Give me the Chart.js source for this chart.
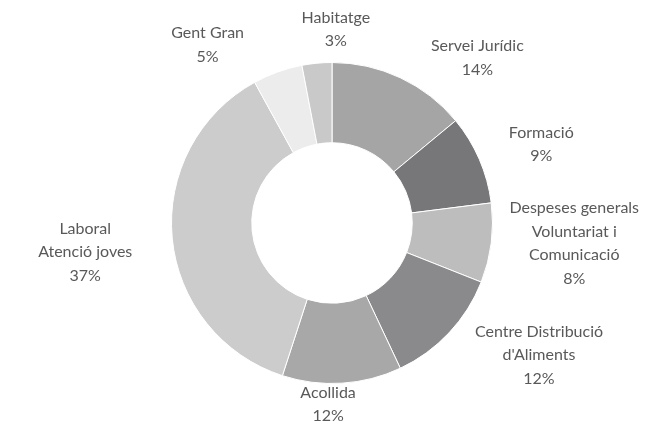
<!DOCTYPE html>
<html>
<head>
<meta charset="utf-8">
<script src="https://cdn.jsdelivr.net/npm/chart.js@4"></script>
<style>
  html, body { margin: 0; padding: 0; background: #fff; }
  #wrap { width: 671px; height: 428px; }
</style>
</head>
<body>
<div id="wrap"><canvas id="donut"></canvas></div>
<script>
// labels (multi-line) and shares in %
const labels = [
    ['Servei Jurídic'],
    ['Formació'],
    ['Despeses generals', 'Voluntariat i', 'Comunicació'],
    ['Centre Distribució', "d'Aliments"],
    ['Acollida'],
    ['Laboral', 'Atenció joves'],
    ['Gent Gran'],
    ['Habitatge']
];
const values = [14, 9, 8, 12, 12, 37, 5, 3];
const colors = ['#a5a5a5', '#77777a', '#bdbdbd', '#8a8a8c', '#a8a8a8', '#cccccc', '#ececec', '#c9c9c9'];

// nudge of each label block away from the outer edge at its mid angle
const labelNudge = [[77, -20], [62, -15], [83, 0], [90, 22], [-14, 21], [-87, 14], [-70, -27], [19, -34]];

const outsideLabels = {
    id: 'outsideLabels',
    afterDatasetsDraw(chart) {
        const ctx = chart.ctx;
        const meta = chart.getDatasetMeta(0);
        ctx.save();
        ctx.font = '16px Lato';
        ctx.fillStyle = '#595959';
        ctx.textAlign = 'center';
        ctx.textBaseline = 'middle';
        const lh = 23.5;
        meta.data.forEach(function (arc, i) {
            const p = arc.getProps(['x', 'y', 'startAngle', 'endAngle', 'outerRadius'], true);
            const mid = (p.startAngle + p.endAngle) / 2;
            const ax = p.x + Math.cos(mid) * p.outerRadius + labelNudge[i][0];
            const ay = p.y + Math.sin(mid) * p.outerRadius + labelNudge[i][1];
            const lines = labels[i].concat([values[i] + '%']);
            const top = ay - (lines.length - 1) * lh / 2;
            lines.forEach(function (t, j) {
                ctx.fillText(t, ax, top + j * lh);
            });
        });
        ctx.restore();
    }
};

var donut = document.getElementById('donut').getContext('2d');
var myChart = new Chart(donut, {
    type: 'doughnut',
    data: {
        labels: labels.map(l => l.join(' ')),
        datasets: [{
            data: values,
            backgroundColor: colors,
            borderColor: '#ffffff',
            borderWidth: 1,
            hoverOffset: 0
        }]
    },
    options: {
        responsive: true,
        maintainAspectRatio: false,
        animation: false,
        events: [],
        cutout: '50%',
        layout: { padding: { left: 171, right: 178, top: 62, bottom: 44 } },
        plugins: {
            legend: { display: false },
            tooltip: { enabled: false }
        }
    },
    plugins: [outsideLabels]
});
</script>
</body>
</html>
